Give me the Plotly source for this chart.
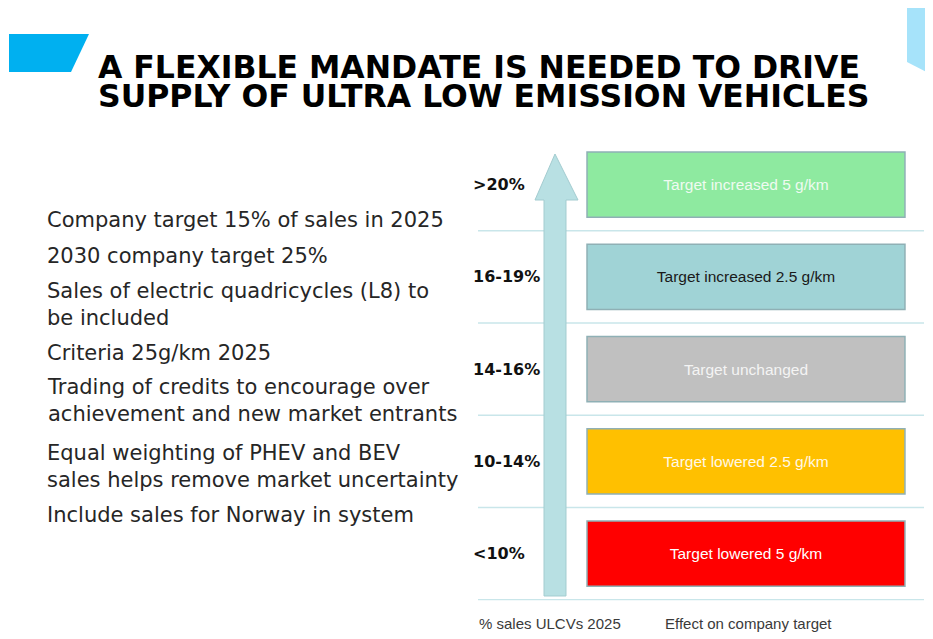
import plotly.graph_objects as go

# ---------------- data ----------------
categories = ["<10%", "10-14%", "14-16%", "16-19%", ">20%"]          # % sales ULCVs 2025 (bottom -> top)
effects = ["Target lowered 5 g/km", "Target lowered 2.5 g/km", "Target unchanged",
           "Target increased 2.5 g/km", "Target increased 5 g/km"]
bar_extent = [1, 1, 1, 1, 1]                                           # every box spans the same column
box_colors = ["#ff0000", "#ffc000", "#c0c0c0", "#a0d3d6", "#8eeaa0"]
text_colors = ["#ffffff", "#fff8e6", "#f4f4f4", "#1a1a1a", "#effbf1"]

title_lines = ["A FLEXIBLE MANDATE IS NEEDED TO DRIVE",
               "SUPPLY OF ULTRA LOW EMISSION VEHICLES"]
points = [
    "Company target 15% of sales in 2025",
    "2030 company target 25%",
    "Sales of electric quadricycles (L8) to<br>be included",
    "Criteria 25g/km 2025",
    "Trading of credits to encourage over<br>achievement and new market entrants",
    "Equal weighting of PHEV and BEV<br>sales helps remove market uncertainty",
    "Include sales for Norway in system",
]
axis_labels = ["% sales ULCVs 2025", "Effect on company target"]

# ---------------- helpers (window pixel -> paper) ----------------
WIN_W, WIN_H = 933, 639
OFF = 8                       # page body margin
W, H = WIN_W - OFF, WIN_H - OFF
def px(x):
    return (x - OFF) / W
def py(y):
    return 1 - (y - OFF) / H
def path(points_px):
    pts = [f"{px(x):.5f},{py(y):.5f}" for x, y in points_px]
    return "M " + " L ".join(pts) + " Z"

fig = go.Figure()

fig.add_trace(go.Bar(
    y=categories, x=bar_extent, base=0, orientation="h", width=0.71,
    marker=dict(color=box_colors, line=dict(color="#8fb0b5", width=1.5)),
    text=effects, textposition="inside", insidetextanchor="middle", textangle=0,
    textfont=dict(family="Liberation Sans", size=15.5, color=text_colors),
    hoverinfo="skip", showlegend=False,
))

shapes = []
# separators between category slots
for i in range(len(categories)):
    shapes.append(dict(type="line", xref="paper", yref="y",
                       x0=px(478), x1=px(924), y0=i - 0.5, y1=i - 0.5,
                       line=dict(color="#c9e6ea", width=1.5), layer="below"))
# upward arrow
shapes.append(dict(type="path", xref="paper", yref="paper",
                   path=path([(555, 154), (578, 200), (566, 200), (566, 596),
                              (544, 596), (544, 200), (535, 200)]),
                   fillcolor="#b8e0e3", line=dict(color="#a3ccd0", width=1)))
# decorations
shapes.append(dict(type="path", xref="paper", yref="paper",
                   path=path([(9, 34), (89, 34), (71, 72), (9, 72)]),
                   fillcolor="#00b0f0", line=dict(width=0)))
shapes.append(dict(type="path", xref="paper", yref="paper",
                   path=path([(907, 8), (934, 8), (934, 76), (907, 62)]),
                   fillcolor="#a6e3fa", line=dict(width=0)))

annotations = []
title_y = [67, 96]
for line, yy in zip(title_lines, title_y):
    annotations.append(dict(text=line, x=px(96), y=py(yy), xref="paper", yref="paper",
                            xanchor="left", yanchor="middle", showarrow=False,
                            font=dict(family="DejaVu Sans", size=31.5, color="#000000",
                                      weight="bold")))
point_y = [220, 256, 304, 353, 401, 466, 515]
for txt, yy in zip(points, point_y):
    annotations.append(dict(text=txt, x=px(45), y=py(yy), xref="paper", yref="paper",
                            xanchor="left", yanchor="middle", align="left", showarrow=False,
                            font=dict(family="DejaVu Sans", size=21, color="#262626")))
for txt, xx in zip(axis_labels, [550, 748]):
    annotations.append(dict(text=txt, x=px(xx), y=py(623), xref="paper", yref="paper",
                            xanchor="center", yanchor="middle", showarrow=False,
                            font=dict(family="Liberation Sans", size=15, color="#3a3a3a")))

fig.update_layout(
    width=W, height=H,
    margin=dict(l=0, r=0, t=0, b=0),
    paper_bgcolor="white", plot_bgcolor="white",
    xaxis=dict(domain=[px(470), px(925)], range=[-0.368, 1.063], visible=False,
               fixedrange=True),
    yaxis=dict(domain=[py(600.5), py(138.5)], type="category", categoryorder="array",
               categoryarray=categories, ticklabelposition="inside", ticks="",
               showgrid=False, zeroline=False, showline=False, fixedrange=True,
               tickfont=dict(family="DejaVu Sans", size=16, color="#111111", weight="bold")),
    shapes=shapes, annotations=annotations,
    bargap=0.28,
)

fig.write_html("out.html")
